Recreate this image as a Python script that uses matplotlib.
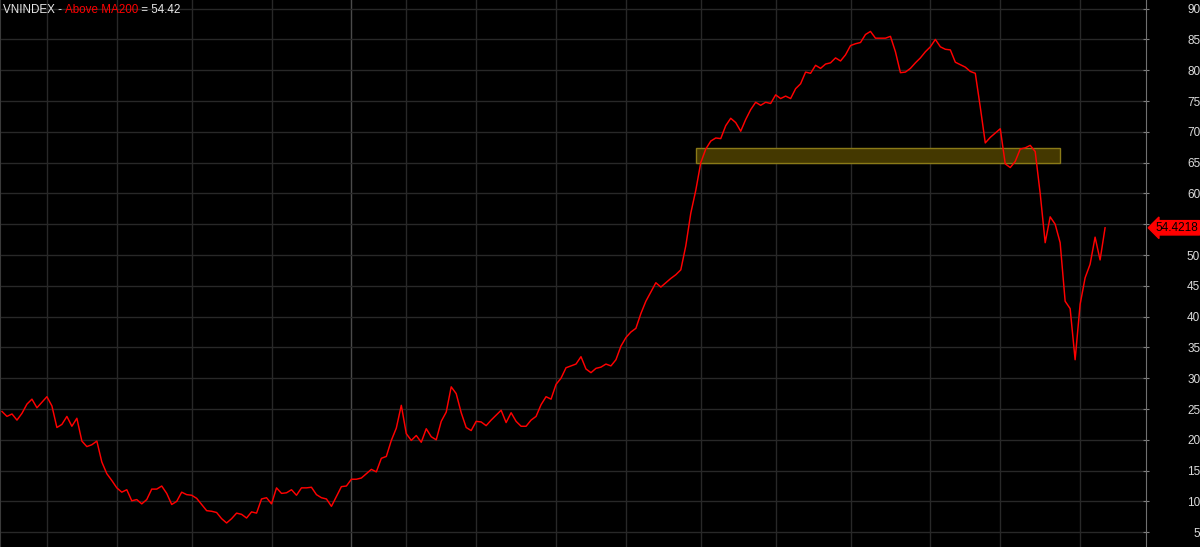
import matplotlib.pyplot as plt
from matplotlib.patches import Rectangle
from matplotlib.transforms import blended_transform_factory

plt.rcParams['font.family'] = ['Liberation Sans', 'DejaVu Sans']

# % of VNINDEX stocks above their MA200, Aug 2022 -> Dec 2023
above_ma200 = [
    24.6, 23.8, 24.2, 23.2, 24.3, 25.8, 26.6, 25.2, 26.1, 27.0,
    25.5, 22.0, 22.5, 23.8, 22.2, 23.5, 19.8, 18.9, 19.2, 19.8,
    16.4, 14.5, 13.4, 12.2, 11.5, 11.9, 10.1, 10.3, 9.6, 10.3,
    12.0, 12.0, 12.5, 11.3, 9.5, 10.0, 11.5, 11.1, 11.0, 10.5,
    9.5, 8.5, 8.4, 8.2, 7.2, 6.5, 7.2, 8.1, 7.9, 7.3,
    8.3, 8.1, 10.4, 10.6, 9.6, 12.2, 11.3, 11.4, 11.9, 11.0,
    12.2, 12.2, 12.3, 11.1, 10.6, 10.4, 9.2, 10.8, 12.4, 12.5,
    13.6, 13.6, 13.8, 14.5, 15.2, 14.8, 17.0, 17.3, 19.9, 21.9,
    25.6, 21.0, 19.9, 20.7, 19.6, 21.8, 20.5, 20.0, 23.0, 24.5,
    28.6, 27.5, 24.4, 22.0, 21.5, 23.0, 22.9, 22.3, 23.2, 24.0,
    24.8, 22.8, 24.4, 23.0, 22.2, 22.2, 23.2, 23.8, 25.7, 27.0,
    26.6, 29.0, 30.0, 31.7, 32.0, 32.3, 33.5, 31.5, 30.9, 31.6,
    31.8, 32.3, 32.0, 33.0, 35.2, 36.6, 37.5, 38.1, 40.5, 42.5,
    44.0, 45.5, 44.8, 45.5, 46.2, 46.8, 47.6, 51.5, 56.8, 60.5,
    65.0, 67.2, 68.5, 69.0, 68.9, 71.0, 72.2, 71.5, 70.1, 72.0,
    73.6, 74.8, 74.3, 74.8, 74.6, 76.0, 75.4, 75.8, 75.4, 77.0,
    77.8, 79.7, 79.5, 80.8, 80.3, 81.0, 81.2, 82.0, 81.5, 82.5,
    84.0, 84.3, 84.5, 85.8, 86.3, 85.2, 85.2, 85.2, 85.5, 83.0,
    79.6, 79.7, 80.3, 81.2, 82.0, 83.0, 83.8, 85.0, 83.8, 83.4,
    83.3, 81.3, 80.9, 80.5, 79.8, 79.5, 74.0, 68.2, 69.1, 69.8,
    70.5, 64.8, 64.2, 65.2, 67.2, 67.4, 67.8, 66.8, 60.0, 52.0,
    56.2, 55.0, 52.0, 42.5, 41.3, 33.0, 42.0, 46.3, 48.5, 52.9,
    49.2, 54.42,
]
last_value = 54.4218

# bar index of each month start (grid), Jan 2023 drawn brighter
month_starts = [9, 23, 38, 54, 81, 95, 111, 125, 140, 155, 170, 186, 200, 216]
year_start = 70

# highlighted zone
zone_start, zone_end = 139, 212
zone_low, zone_high = 64.9, 67.3

y_ticks = list(range(5, 95, 5))

fig = plt.figure(figsize=(12, 5.47), dpi=100, facecolor='black')
ax = fig.add_axes([0, 0, 0.955, 1])
ax.set_facecolor('black')

ax.plot(range(len(above_ma200)), above_ma200, color='#ff0000', lw=1.05, zorder=3)
ax.add_patch(Rectangle((zone_start, zone_low), zone_end - zone_start, zone_high - zone_low,
                       facecolor='#443800', edgecolor='#8a7a18', lw=1, zorder=2))

ax.set_xlim(-0.4, 229.2)
ax.set_ylim(2.6, 91.4)

ax.set_xticks(month_starts)
ax.set_xticklabels([])
ax.set_yticks(y_ticks)
ax.grid(True, color='#282828', lw=1, zorder=0)
ax.axvline(year_start, color='#4a4a4a', lw=1, zorder=1)

for side in ['top', 'bottom']:
    ax.spines[side].set_visible(False)
ax.spines['right'].set_color('#707070')
ax.spines['left'].set_color('#3a3a3a')

ax.yaxis.tick_right()
ax.tick_params(axis='x', length=0)
ax.tick_params(axis='y', direction='inout', length=5, color='#808080',
               labelcolor='#dcdcdc', labelsize=8.5, pad=36.5)
for lab in ax.get_yticklabels():
    lab.set_horizontalalignment('right')

# last value tag
trans = blended_transform_factory(ax.transAxes, ax.transData)
ax.annotate(f'{last_value:.4f}', xy=(1, last_value), xycoords=trans,
            xytext=(7, 0), textcoords='offset points', ha='left', va='center',
            color='black', fontsize=8.5, annotation_clip=False, zorder=5,
            bbox=dict(boxstyle='larrow,pad=0.1', fc='#ff0000', ec='#ff0000'))

# title
t1 = fig.text(3 / 1200, 1 - 10 / 547, 'VNINDEX - ', color='#e6e6e6', fontsize=8.4, va='center')
t2 = ax.annotate('Above MA200', xy=(1, 0), xycoords=t1, va='bottom', color='#ff0000', fontsize=8.4)
ax.annotate(' = 54.42', xy=(1, 0), xycoords=t2, va='bottom', color='#e6e6e6', fontsize=8.4)

fig.savefig('out.png', dpi=100, facecolor='black')
